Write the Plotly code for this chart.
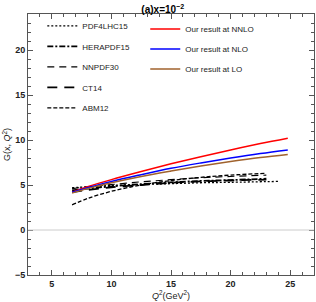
import plotly.graph_objects as go

# Our results
q2_ours = [6.7, 8, 10, 12.5, 15, 17.5, 20, 22.5, 24.8]
nnlo = [4.2, 4.8, 5.6, 6.5, 7.35, 8.15, 8.9, 9.6, 10.2]
nlo = [4.2, 4.7, 5.4, 6.15, 6.85, 7.45, 8.0, 8.5, 8.9]
lo = [4.1, 4.6, 5.25, 5.95, 6.55, 7.1, 7.6, 8.05, 8.4]

# Global PDF sets
q2_pdf = [6.7, 8, 10, 12.5, 15, 17.5, 20, 23]
q2_pdf4 = [6.7, 8, 10, 12.5, 15, 17.5, 20, 24]
pdf4lhc15 = [4.7, 4.8, 4.95, 5.05, 5.15, 5.25, 5.3, 5.4]
herapdf15 = [4.4, 4.6, 4.85, 5.1, 5.3, 5.45, 5.55, 5.7]
nnpdf30 = [4.6, 4.8, 5.05, 5.35, 5.6, 5.8, 5.95, 6.1]
ct14 = [4.2, 4.45, 4.75, 5.0, 5.25, 5.4, 5.5, 5.6]
abm12 = [2.8, 3.5, 4.3, 5.0, 5.5, 5.85, 6.1, 6.3]

FONT = "Liberation Sans"
fig = go.Figure()

black = [
    ("PDF4LHC15", q2_pdf4, pdf4lhc15, "2px,2px", 1.3),
    ("HERAPDF15", q2_pdf, herapdf15, "6px,2px,2px,2px", 1.8),
    ("NNPDF30", q2_pdf, nnpdf30, "7px,5px", 1.1),
    ("CT14", q2_pdf, ct14, "10px,7px", 1.8),
    ("ABM12", q2_pdf, abm12, "4px,2px", 1.3),
]
for name, xs, ys, dash, w in black:
    fig.add_trace(go.Scatter(x=xs, y=ys, mode="lines", name=name, legend="legend",
                             legendgroup=name,
                             line=dict(color="black", dash=dash, width=w, shape="spline")))

colored = [
    ("Our result at NNLO", nnlo, "#ff0000"),
    ("Our result at NLO", nlo, "#0000ff"),
    ("Our result at LO", lo, "#a0622d"),
]
for name, ys, c in colored:
    fig.add_trace(go.Scatter(x=q2_ours, y=ys, mode="lines", name=name, legend="legend2",
                             legendgroup=name,
                             line=dict(color=c, width=1.5, shape="spline")))

axis_common = dict(
    showgrid=False, zeroline=False, showline=True, linecolor="#555555", linewidth=1,
    mirror="allticks", ticks="inside", ticklen=5, tickcolor="#555555",
    tickfont=dict(family=FONT, size=9, color="#222222", weight="bold"),
    minor=dict(ticks="inside", ticklen=3, dtick=1, tickcolor="#555555"),
)

fig.add_hline(y=0, line=dict(color="#cccccc", width=1))

fig.update_layout(
    width=316, height=302,
    margin=dict(l=28, r=2, t=14, b=27),
    paper_bgcolor="white", plot_bgcolor="white",
    title=dict(text="<b>(a)x=10<sup>−2</sup></b>", x=0.515, xanchor="center", y=0.968, yanchor="middle",
               font=dict(family=FONT, size=10, color="black")),
    xaxis=dict(range=[3, 27], tickvals=[5, 10, 15, 20, 25], **axis_common,
               title=dict(text="<i>Q</i><sup>2</sup>(GeV<sup>2</sup>)", standoff=4,
                          font=dict(family=FONT, size=9, color="#222222"))),
    yaxis=dict(range=[-5, 24], tickvals=[-5, 0, 5, 10, 15, 20], **axis_common,
               title=dict(text="G(x, <i>Q</i><sup>2</sup>)", standoff=2,
                          font=dict(family=FONT, size=9, color="#222222"))),
    legend=dict(x=0.05, y=1.01, xanchor="left", yanchor="top", bgcolor="rgba(0,0,0,0)",
                font=dict(family=FONT, size=8, color="#222222"), tracegroupgap=1.5,
                itemwidth=30),
    legend2=dict(x=0.41, y=0.998, xanchor="left", yanchor="top", bgcolor="rgba(0,0,0,0)",
                 font=dict(family=FONT, size=8, color="#222222"), tracegroupgap=1,
                 itemwidth=30),
    showlegend=True,
)

fig.write_html("out.html", config={"displayModeBar": False},
               post_script="document.body.style.margin='0px';")
